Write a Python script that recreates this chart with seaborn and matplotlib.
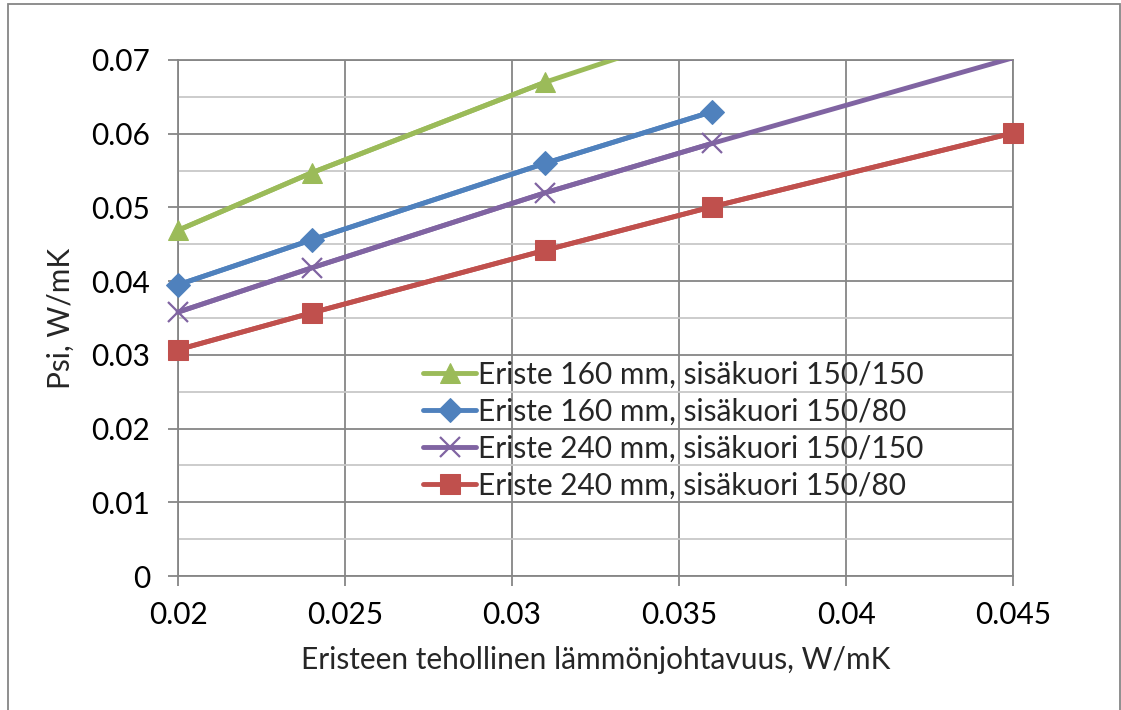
import numpy as np
import pandas as pd
import matplotlib
matplotlib.use("Agg")
import matplotlib.pyplot as plt
from matplotlib.patches import Rectangle
from matplotlib.ticker import MultipleLocator
import seaborn as sns

# Data
x_vals = [0.020, 0.024, 0.031, 0.036, 0.045]
green_160_150 = [0.0469, 0.0547, 0.0670, 0.0745]
blue_160_80 = [0.0395, 0.0456, 0.0560, 0.0630]
purple_240_150 = [0.0358, 0.0418, 0.0520, 0.0587, 0.0703]
red_240_80 = [0.0307, 0.0357, 0.0442, 0.0501, 0.0601]

labels = ["Eriste 160 mm, sisäkuori 150/150",
          "Eriste 160 mm, sisäkuori 150/80",
          "Eriste 240 mm, sisäkuori 150/150",
          "Eriste 240 mm, sisäkuori 150/80"]
colors = ["#9BBB59", "#4F81BD", "#8064A2", "#C0504D"]

sns.set_theme(style="white")
plt.rcParams['font.family'] = ['Lato', 'DejaVu Sans']
FS = 21.5

fig = plt.figure(figsize=(11.21, 7.10), dpi=100)
ax = fig.add_axes([0.1588, 0.1887, 0.9037 - 0.1588, 0.9155 - 0.1887])

series = [green_160_150, blue_160_80, purple_240_150, red_240_80]
styles = [dict(marker='^', markersize=15),
          dict(marker='D', markersize=12),
          dict(marker='x', markersize=14, markeredgewidth=1.6),
          dict(marker='s', markersize=14)]

YMAX = 0.07
for vals, lab, col, st in zip(series, labels, colors, styles):
    df = pd.DataFrame({"x": x_vals[:len(vals)], "y": vals})
    # full line, clipped to the plot area
    sns.lineplot(data=df, x="x", y="y", ax=ax, color=col, linewidth=3.5,
                 zorder=3, legend=False)
    # points inside the range, markers drawn unclipped like Excel does
    inside = df[df["y"] <= YMAX]
    sns.lineplot(data=inside, x="x", y="y", ax=ax, color=col, linewidth=3.5,
                 label=lab, markeredgecolor=col, markerfacecolor=col,
                 zorder=4, clip_on=False, **st)

ax.set_xlim(0.02, 0.045)
ax.set_ylim(0, YMAX)
ax.yaxis.set_minor_locator(MultipleLocator(0.005))
ax.set_xticks(np.arange(0.02, 0.0451, 0.005))
ax.set_xticklabels(["0.02", "0.025", "0.03", "0.035", "0.04", "0.045"])
ax.set_yticks(np.arange(0, 0.0701, 0.01))
ax.set_yticklabels(["0", "0.01", "0.02", "0.03", "0.04", "0.05", "0.06", "0.07"])

ax.grid(True, which='major', color='#868686', linewidth=1.3)
ax.grid(True, which='minor', axis='y', color='#C8C8C8', linewidth=1.3)
ax.set_axisbelow(True)
for s in ax.spines.values():
    s.set_color('#868686')
    s.set_linewidth(1.3)

ax.tick_params(axis='both', which='major', direction='out', length=7, width=1.3,
               color='#868686', labelsize=FS, labelcolor='black')
ax.tick_params(axis='y', which='major', pad=13)
ax.tick_params(axis='x', which='major', pad=11)
ax.tick_params(axis='y', which='minor', length=0)
ax.tick_params(left=True, bottom=True)

ax.set_xlabel("Eristeen tehollinen lämmönjohtavuus, W/mK", fontsize=FS, labelpad=12)
ax.set_ylabel("Psi, W/mK", fontsize=FS, labelpad=12)

leg = ax.legend(loc='upper left', bbox_to_anchor=(0.293, 0.417), frameon=False,
                fontsize=FS, handlelength=1.8, handletextpad=0.05,
                labelspacing=0.3, borderpad=0, borderaxespad=0)

# outer chart-area border
fig.patches.append(Rectangle((8 / 1121, -0.01), (1120 - 8) / 1121, 1 - 4 / 710 + 0.01,
                             transform=fig.transFigure, fill=False,
                             edgecolor='#868686', linewidth=1.3, clip_on=False))

fig.savefig("out.png", dpi=100)
